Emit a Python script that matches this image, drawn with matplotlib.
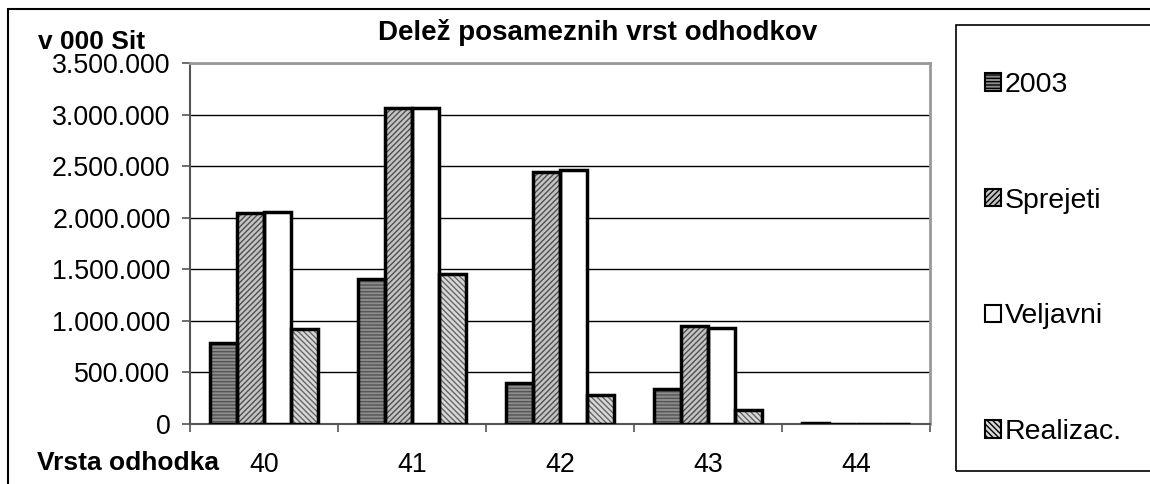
import matplotlib.pyplot as plt
import matplotlib.ticker as mticker
from matplotlib.patches import Rectangle
import numpy as np

plt.rcParams['font.family'] = ['Liberation Sans', 'DejaVu Sans']

categories = ['40', '41', '42', '43', '44']
series_names = ['2003', 'Sprejeti', 'Veljavni', 'Realizac.']
v2003 = [787000, 1410000, 395000, 340000, 10000]
sprejeti = [2042000, 3065000, 2441000, 946000, 0]
veljavni = [2057000, 3065000, 2461000, 933000, 0]
realizac = [924000, 1459000, 285000, 139000, 0]

values = [v2003, sprejeti, veljavni, realizac]
faces = ['#8c8c8c', '#c4c4c4', 'white', '#d8d8d8']
hatches = ['-----', '//////', '', '\\\\\\\\\\\\']
hcolors = ['#555555', '#505050', 'white', '#666666']

W, H = 1150, 484
fig = plt.figure(figsize=(11.5, 4.84), dpi=100)
ax = fig.add_axes([190 / W, 1 - 424 / H, 740 / W, 361 / H])

x = np.arange(len(categories))
bw = 1 / 5.5
handles = []
for i, (vals, fc, h, hc) in enumerate(zip(values, faces, hatches, hcolors)):
    pos = x + (i - 1.5) * bw
    ax.bar(pos, vals, bw, color=fc, hatch=h, edgecolor=hc, linewidth=0, zorder=3)
    ax.bar(pos, vals, bw, fill=False, edgecolor='black', linewidth=2.5, zorder=4)
    p = Rectangle((0, 0), 1, 1, facecolor=fc, hatch=h, edgecolor='black', linewidth=1.5)
    handles.append(p)

ax.set_xlim(-0.5, 4.5)
ax.set_ylim(0, 3500000)
ax.yaxis.set_major_locator(mticker.MultipleLocator(500000))
ax.yaxis.set_major_formatter(mticker.FuncFormatter(lambda v, p: f'{int(v):,}'.replace(',', '.')))
ax.yaxis.grid(True, color='black', linewidth=1)
ax.set_axisbelow(True)

ax.set_xticks(x)
ax.set_xticklabels(categories)
ax.set_xticks(np.arange(-0.5, 5.0, 1), minor=True)
ax.tick_params(axis='x', which='major', length=0, pad=20, labelsize=19.3)
ax.tick_params(axis='x', which='minor', length=6, width=1.2, direction='out', color='#555555')
ax.tick_params(axis='y', length=6, width=1.2, pad=8, labelsize=19.3, color='#555555')

for s in ['top', 'right']:
    ax.spines[s].set_color('#999999')
    ax.spines[s].set_linewidth(2)
for s in ['left', 'bottom']:
    ax.spines[s].set_color('#555555')
    ax.spines[s].set_linewidth(1.5)

fig.text(598 / W, 1 - 33 / H, 'Delež posameznih vrst odhodkov', ha='center', va='center',
         fontsize=20, fontweight='bold')
fig.text(38 / W, 1 - 42 / H, 'v 000 Sit', ha='left', va='center', fontsize=19, fontweight='bold')
fig.text(37 / W, 1 - 463 / H, 'Vrsta odhodka', ha='left', va='center', fontsize=19, fontweight='bold')

# outer chart border and legend box
fig.patches.append(Rectangle((8 / W, -0.1), 1.2, 1 - 9 / H + 0.1, transform=fig.transFigure,
                             fill=False, edgecolor='black', linewidth=1.5))
fig.patches.append(Rectangle((956 / W, 1 - 471 / H), 0.3, (471 - 25) / H, transform=fig.transFigure,
                             fill=False, edgecolor='black', linewidth=1.2))

fig.legend(handles, series_names, loc='upper left', bbox_to_anchor=(985 / W, 1 - 72 / H),
           frameon=False, fontsize=20.5, handlelength=0.55, handleheight=0.55,
           handletextpad=0.15, labelspacing=3.15, borderpad=0, borderaxespad=0)

fig.savefig('out.png', dpi=100)
